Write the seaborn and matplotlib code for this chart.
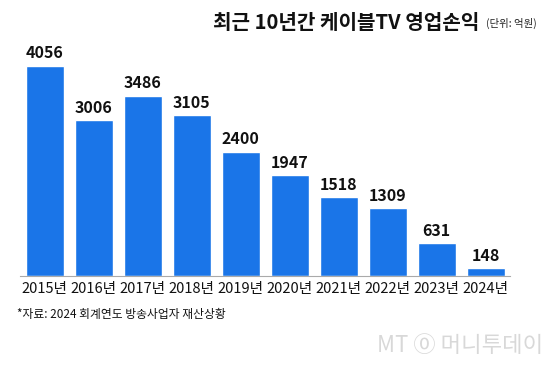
import matplotlib
matplotlib.use('Agg')
import matplotlib.pyplot as plt
import seaborn as sns
import pandas as pd

years = ['2015년', '2016년', '2017년', '2018년', '2019년',
         '2020년', '2021년', '2022년', '2023년', '2024년']
profit = [4056, 3006, 3486, 3105, 2400, 1947, 1518, 1309, 631, 148]

sns.set_style('white')
plt.rcParams['font.family'] = ['Noto Sans CJK KR', 'DejaVu Sans']

df = pd.DataFrame({'year': years, 'profit': profit})

fig = plt.figure(figsize=(5.6, 3.68), dpi=100)
ax = fig.add_axes([0.036, 0.25, 0.875, 0.633])

sns.barplot(data=df, x='year', y='profit', color='#1a75e8', saturation=1,
            width=0.78, ax=ax)

for i, v in enumerate(profit):
    ax.text(i, v + 90, f'{v}', ha='center', va='bottom', fontsize=11.5,
            fontweight='bold', color='#111111')

ax.set_ylim(0, 4500)
ax.set_xlim(-0.5, len(years) - 0.5)
ax.set_xlabel('')
ax.set_ylabel('')
ax.set_yticks([])
for s in ['top', 'right', 'left']:
    ax.spines[s].set_visible(False)
ax.spines['bottom'].set_color('#aaaaaa')
ax.spines['bottom'].set_linewidth(0.8)

ax.set_xticks([i - 0.5 for i in range(len(years) + 1)], minor=True)
ax.tick_params(axis='x', which='major', length=0, labelsize=10.5,
               labelcolor='#111111', pad=4)
ax.tick_params(axis='x', which='minor', length=4, direction='in',
               color='#aaaaaa', width=0.8)

fig.text(0.38, 0.94, '최근 10년간 케이블TV 영업손익', fontsize=14.5,
         fontweight='bold', va='center', ha='left', color='#111111')
fig.text(0.868, 0.935, '(단위: 억원)', fontsize=7.5, va='center', ha='left',
         color='#222222')

fig.text(0.03, 0.145, '*자료: 2024 회계연도 방송사업자 재산상황', fontsize=8.5,
         va='center', ha='left', color='#111111')
fig.text(0.97, 0.06, 'MT ⓪ 머니투데이', fontsize=16, va='center', ha='right',
         color='#d8d8d8')

fig.savefig('out.png', dpi=100)
